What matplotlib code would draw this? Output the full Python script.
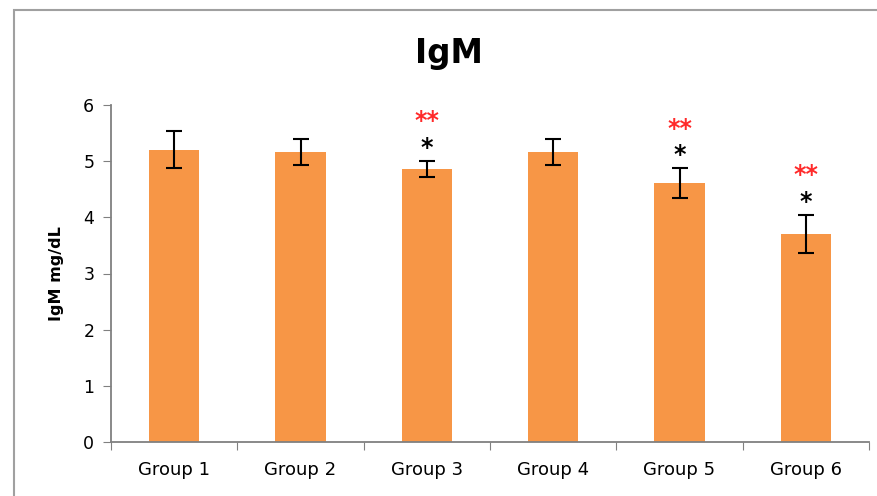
import matplotlib
matplotlib.use("Agg")
import matplotlib.pyplot as plt
from matplotlib.patches import Rectangle

categories = ["Group 1", "Group 2", "Group 3", "Group 4", "Group 5", "Group 6"]
values = [5.2, 5.17, 4.86, 5.17, 4.61, 3.70]
errors = [0.33, 0.23, 0.15, 0.23, 0.26, 0.34]
black_marks = ["", "", "*", "", "*", "*"]
red_marks = ["", "", "**", "", "**", "**"]

plt.rcParams['font.family'] = ['DejaVu Sans']

fig = plt.figure(figsize=(8.77, 4.96), dpi=100)
fig.patches.append(Rectangle((14/877, -0.1), 1.2, 1 - 10/496 + 0.1,
                             transform=fig.transFigure, fill=False,
                             edgecolor='#a0a0a0', linewidth=1.5))
ax = fig.add_axes([111/877, 1 - 442/496, (869-111)/877, (442-105)/496])

x = list(range(len(categories)))
ax.bar(x, values, width=0.4, color='#f79646', zorder=2)
ax.errorbar(x, values, yerr=errors, fmt='none', ecolor='black',
            elinewidth=1.5, capsize=6, capthick=1.5, zorder=3)

fs_star = 17
for i in x:
    top = values[i] + errors[i]
    if black_marks[i]:
        ax.annotate(black_marks[i], xy=(i, top + 0.30), xytext=(0, -0.46 * fs_star),
                    textcoords='offset points', ha='center', va='baseline',
                    fontsize=fs_star, fontweight='bold', color='black')
    if red_marks[i]:
        ax.annotate(red_marks[i], xy=(i, top + 0.78), xytext=(0, -0.46 * fs_star),
                    textcoords='offset points', ha='center', va='baseline',
                    fontsize=fs_star, fontweight='bold', color='#ff2a2a')

ax.set_xlim(-0.5, 5.5)
ax.set_ylim(0, 6)
ax.set_yticks(range(7))
ax.set_xticks([i - 0.5 for i in range(7)], minor=False)
ax.set_xticklabels([])
ax.set_xticks(x, minor=True)
ax.set_xticklabels(categories, minor=True, fontsize=13)
ax.tick_params(axis='x', which='minor', length=0, pad=14)
ax.tick_params(axis='x', which='major', length=6, direction='out', color='#808080')
ax.tick_params(axis='y', length=6, direction='out', color='#808080', labelsize=12.5, pad=6)

for s in ['top', 'right']:
    ax.spines[s].set_visible(False)
for s in ['left', 'bottom']:
    ax.spines[s].set_color('#808080')
    ax.spines[s].set_linewidth(1.3)

ax.set_ylabel("IgM mg/dL", fontsize=11.5, fontweight='bold', labelpad=14)
fig.text(449/877, 1 - 53/496, "IgM", ha='center', va='center',
         fontsize=23.5, fontweight='bold')

fig.savefig("out.png", dpi=100)
